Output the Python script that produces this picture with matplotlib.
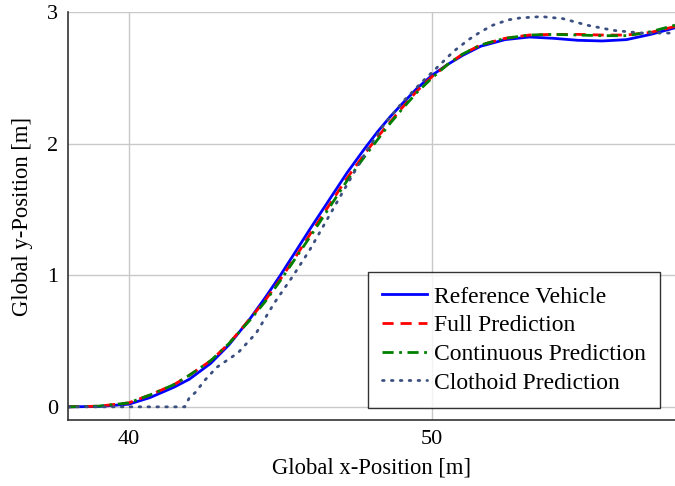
import matplotlib
matplotlib.use("Agg")
import matplotlib.pyplot as plt

plt.rcParams['font.family'] = ['Liberation Serif', 'DejaVu Serif']
plt.rcParams['mathtext.fontset'] = 'stix'

# reference vehicle path
ref_x = [38.0, 39.0, 40.0, 40.7, 41.5, 42.0, 42.7, 43.3, 44.0, 44.5, 45.0, 45.5, 46.0, 46.6,
         47.2, 47.8, 48.2, 48.6, 49.0, 49.5, 50.0, 50.5, 51.0, 51.6, 52.4, 53.2, 54.0, 54.8,
         55.6, 56.4, 57.2, 58.0]
ref_y = [0.0, 0.003, 0.02, 0.07, 0.15, 0.21, 0.33, 0.47, 0.67, 0.83, 1.0, 1.18, 1.36, 1.57,
         1.78, 1.97, 2.09, 2.2, 2.3, 2.42, 2.52, 2.6, 2.67, 2.74, 2.79, 2.81, 2.80, 2.785,
         2.78, 2.79, 2.83, 2.88]

# full prediction
full_x = [38.0, 39.0, 40.0, 40.7, 41.5, 42.0, 42.7, 43.3, 44.0, 44.5, 45.0, 45.5, 46.0, 46.6,
          47.2, 47.8, 48.2, 48.6, 49.0, 49.5, 50.0, 50.5, 51.0, 51.6, 52.4, 53.2, 54.0, 54.8,
          55.6, 56.4, 57.2, 58.0]
full_y = [0.0, 0.005, 0.03, 0.09, 0.17, 0.24, 0.35, 0.48, 0.67, 0.81, 0.97, 1.14, 1.32, 1.53,
          1.74, 1.93, 2.05, 2.16, 2.27, 2.4, 2.51, 2.6, 2.68, 2.75, 2.8, 2.825, 2.83, 2.83,
          2.825, 2.825, 2.845, 2.89]

# continuous prediction
cont_x = [38.0, 39.0, 40.0, 40.7, 41.5, 42.0, 42.7, 43.3, 44.0, 44.5, 45.0, 45.5, 46.0, 46.6,
          47.2, 47.8, 48.2, 48.6, 49.0, 49.5, 50.0, 50.5, 51.0, 51.6, 52.4, 53.2, 54.0, 54.8,
          55.6, 56.4, 57.2, 58.0]
cont_y = [0.0, 0.005, 0.03, 0.09, 0.17, 0.24, 0.35, 0.48, 0.66, 0.80, 0.96, 1.13, 1.30, 1.51,
          1.72, 1.91, 2.03, 2.15, 2.26, 2.39, 2.5, 2.6, 2.68, 2.75, 2.8, 2.825, 2.83, 2.825,
          2.82, 2.82, 2.85, 2.90]

# clothoid prediction
clo_x = [38.0, 40.0, 41.85, 42.0, 42.2, 42.5, 42.9, 43.6, 44.2, 44.8, 45.4, 45.96, 46.9, 47.8,
         48.4, 49.04, 49.67, 50.26, 50.7, 51.2, 51.6, 52.0, 52.5, 52.9, 53.6, 54.3, 55.1,
         55.98, 56.9, 58.0]
clo_y = [0.0, 0.0, 0.0, 0.07, 0.11, 0.2, 0.3, 0.41, 0.56, 0.79, 0.99, 1.19, 1.57, 1.93,
         2.14, 2.32, 2.47, 2.6, 2.7, 2.79, 2.85, 2.9, 2.94, 2.955, 2.965, 2.95, 2.9,
         2.86, 2.84, 2.84]

fig = plt.figure(figsize=(6.75, 4.86), dpi=100)
ax = fig.add_axes([0.1007, 0.1358, 0.8993, 0.8395])

ax.plot(ref_x, ref_y, color='blue', lw=2.0, label='Reference Vehicle')
ax.plot(full_x, full_y, color='red', lw=2.0, ls=(0, (4, 2.5)), label='Full Prediction')
ax.plot(cont_x, cont_y, color='green', lw=2.0, ls=(0, (4, 2, 1, 2)), label='Continuous Prediction')
ax.plot(clo_x, clo_y, color='#3b4f80', lw=2.0, ls=(0, (0.6, 2.6)), dash_capstyle='round',
        label='Clothoid Prediction')

ax.set_xlim(38, 58)
ax.set_ylim(-0.1, 3)
ax.set_xticks([40, 50])
ax.set_yticks([0, 1, 2, 3])
ax.grid(True, color='#c8c8c8', lw=1.0)
ax.set_axisbelow(True)
for s in ['top', 'right']:
    ax.spines[s].set_visible(False)
for s in ['left', 'bottom']:
    ax.spines[s].set_color('#333333')
    ax.spines[s].set_linewidth(1.2)
ax.tick_params(length=0, labelsize=16, pad=7)

ax.set_xlabel('Global x-Position [m]', fontsize=16.3, labelpad=6)
ax.set_ylabel('Global y-Position [m]', fontsize=16.3, labelpad=10)

leg = ax.legend(loc='lower right', fontsize=17, frameon=True, fancybox=False,
                edgecolor='black', handlelength=1.9, handletextpad=0.3, borderpad=0.6,
                labelspacing=0.3, borderaxespad=0, bbox_to_anchor=(0.975, 0.03))
leg.get_frame().set_linewidth(1.0)

fig.savefig('out.png', dpi=100)
